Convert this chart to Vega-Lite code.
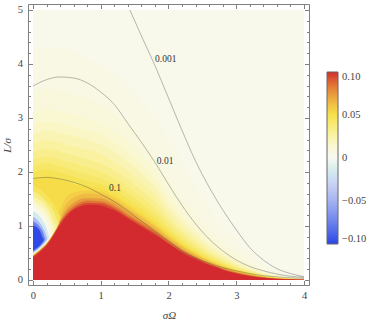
{
"$schema": "https://vega.github.io/schema/vega-lite/v6.json",
"width": 281, "height": 281,
"autosize": {"type": "none"},
"padding": {"left": 28, "top": 4, "right": 65, "bottom": 39},
"background": "white",
"config": {"view": {"stroke": null}, "font": "Liberation Serif"},
"datasets": {
"bands": [
{"x":0,"y":5,"v":0.003},{"x":4,"y":5,"v":0.003},
{"x":0,"y":4.3,"v":0.0065},{"x":0.4,"y":4.3,"v":0.0065},{"x":0.8,"y":4.1,"v":0.0065},{"x":1.2,"y":3.8,"v":0.0065},{"x":1.6,"y":3.3,"v":0.0065},{"x":2,"y":2.6,"v":0.0065},{"x":2.4,"y":1.7,"v":0.0065},{"x":2.8,"y":1.0,"v":0.0065},{"x":3.2,"y":0.5,"v":0.0065},{"x":3.6,"y":0.15,"v":0.0065},{"x":4,"y":0.04,"v":0.0065},
{"x":0,"y":3.5,"v":0.0095},{"x":0.1,"y":3.52,"v":0.0095},{"x":0.2,"y":3.54,"v":0.0095},{"x":0.3,"y":3.52,"v":0.0095},{"x":0.4,"y":3.5,"v":0.0095},{"x":0.5,"y":3.47,"v":0.0095},{"x":0.6,"y":3.44,"v":0.0095},{"x":0.7,"y":3.4,"v":0.0095},{"x":0.8,"y":3.36,"v":0.0095},{"x":1,"y":3.25,"v":0.0095},{"x":1.2,"y":3.08,"v":0.0095},{"x":1.4,"y":2.88,"v":0.0095},{"x":1.6,"y":2.6,"v":0.0095},{"x":1.8,"y":2.25,"v":0.0095},{"x":2,"y":1.86,"v":0.0095},{"x":2.2,"y":1.52,"v":0.0095},{"x":2.4,"y":1.22,"v":0.0095},{"x":2.6,"y":0.94,"v":0.0095},{"x":2.8,"y":0.71,"v":0.0095},{"x":3,"y":0.5,"v":0.0095},{"x":3.2,"y":0.35,"v":0.0095},{"x":3.4,"y":0.19,"v":0.0095},{"x":3.6,"y":0.099,"v":0.0095},{"x":3.8,"y":0.052,"v":0.0095},{"x":4,"y":0.028,"v":0.0095},
{"x":0,"y":3.1,"v":0.0135},{"x":0.1,"y":3.13,"v":0.0135},{"x":0.2,"y":3.16,"v":0.0135},{"x":0.3,"y":3.14,"v":0.0135},{"x":0.4,"y":3.12,"v":0.0135},{"x":0.5,"y":3.09,"v":0.0135},{"x":0.6,"y":3.06,"v":0.0135},{"x":0.7,"y":3.03,"v":0.0135},{"x":0.8,"y":3.0,"v":0.0135},{"x":1,"y":2.9,"v":0.0135},{"x":1.2,"y":2.75,"v":0.0135},{"x":1.4,"y":2.55,"v":0.0135},{"x":1.6,"y":2.31,"v":0.0135},{"x":1.8,"y":2.03,"v":0.0135},{"x":2,"y":1.62,"v":0.0135},{"x":2.2,"y":1.29,"v":0.0135},{"x":2.4,"y":1.02,"v":0.0135},{"x":2.6,"y":0.78,"v":0.0135},{"x":2.8,"y":0.58,"v":0.0135},{"x":3,"y":0.4,"v":0.0135},{"x":3.2,"y":0.275,"v":0.0135},{"x":3.4,"y":0.152,"v":0.0135},{"x":3.6,"y":0.078,"v":0.0135},{"x":3.8,"y":0.041,"v":0.0135},{"x":4,"y":0.023,"v":0.0135},
{"x":0,"y":2.87,"v":0.0175},{"x":0.1,"y":2.91,"v":0.0175},{"x":0.2,"y":2.94,"v":0.0175},{"x":0.3,"y":2.92,"v":0.0175},{"x":0.4,"y":2.9,"v":0.0175},{"x":0.5,"y":2.87,"v":0.0175},{"x":0.6,"y":2.84,"v":0.0175},{"x":0.7,"y":2.81,"v":0.0175},{"x":0.8,"y":2.78,"v":0.0175},{"x":1,"y":2.69,"v":0.0175},{"x":1.2,"y":2.54,"v":0.0175},{"x":1.4,"y":2.35,"v":0.0175},{"x":1.6,"y":2.12,"v":0.0175},{"x":1.8,"y":1.86,"v":0.0175},{"x":2,"y":1.47,"v":0.0175},{"x":2.2,"y":1.16,"v":0.0175},{"x":2.4,"y":0.91,"v":0.0175},{"x":2.6,"y":0.69,"v":0.0175},{"x":2.8,"y":0.51,"v":0.0175},{"x":3,"y":0.35,"v":0.0175},{"x":3.2,"y":0.235,"v":0.0175},{"x":3.4,"y":0.132,"v":0.0175},{"x":3.6,"y":0.068,"v":0.0175},{"x":3.8,"y":0.036,"v":0.0175},{"x":4,"y":0.02,"v":0.0175},
{"x":0,"y":2.7,"v":0.0222},{"x":0.1,"y":2.74,"v":0.0222},{"x":0.2,"y":2.77,"v":0.0222},{"x":0.3,"y":2.75,"v":0.0222},{"x":0.4,"y":2.72,"v":0.0222},{"x":0.5,"y":2.69,"v":0.0222},{"x":0.6,"y":2.66,"v":0.0222},{"x":0.7,"y":2.63,"v":0.0222},{"x":0.8,"y":2.6,"v":0.0222},{"x":1,"y":2.51,"v":0.0222},{"x":1.2,"y":2.37,"v":0.0222},{"x":1.4,"y":2.19,"v":0.0222},{"x":1.6,"y":1.97,"v":0.0222},{"x":1.8,"y":1.72,"v":0.0222},{"x":2,"y":1.35,"v":0.0222},{"x":2.2,"y":1.06,"v":0.0222},{"x":2.4,"y":0.83,"v":0.0222},{"x":2.6,"y":0.62,"v":0.0222},{"x":2.8,"y":0.46,"v":0.0222},{"x":3,"y":0.31,"v":0.0222},{"x":3.2,"y":0.205,"v":0.0222},{"x":3.4,"y":0.116,"v":0.0222},{"x":3.6,"y":0.06,"v":0.0222},{"x":3.8,"y":0.032,"v":0.0222},{"x":4,"y":0.018,"v":0.0222},
{"x":0,"y":2.53,"v":0.0272},{"x":0.1,"y":2.57,"v":0.0272},{"x":0.2,"y":2.59,"v":0.0272},{"x":0.3,"y":2.57,"v":0.0272},{"x":0.4,"y":2.54,"v":0.0272},{"x":0.5,"y":2.5,"v":0.0272},{"x":0.6,"y":2.47,"v":0.0272},{"x":0.7,"y":2.44,"v":0.0272},{"x":0.8,"y":2.41,"v":0.0272},{"x":1,"y":2.33,"v":0.0272},{"x":1.2,"y":2.19,"v":0.0272},{"x":1.4,"y":2.02,"v":0.0272},{"x":1.6,"y":1.81,"v":0.0272},{"x":1.8,"y":1.58,"v":0.0272},{"x":2,"y":1.24,"v":0.0272},{"x":2.2,"y":0.97,"v":0.0272},{"x":2.4,"y":0.75,"v":0.0272},{"x":2.6,"y":0.56,"v":0.0272},{"x":2.8,"y":0.41,"v":0.0272},{"x":3,"y":0.28,"v":0.0272},{"x":3.2,"y":0.185,"v":0.0272},{"x":3.4,"y":0.104,"v":0.0272},{"x":3.6,"y":0.054,"v":0.0272},{"x":3.8,"y":0.029,"v":0.0272},{"x":4,"y":0.016,"v":0.0272},
{"x":0,"y":2.38,"v":0.0322},{"x":0.1,"y":2.41,"v":0.0322},{"x":0.2,"y":2.43,"v":0.0322},{"x":0.3,"y":2.41,"v":0.0322},{"x":0.4,"y":2.38,"v":0.0322},{"x":0.5,"y":2.34,"v":0.0322},{"x":0.6,"y":2.31,"v":0.0322},{"x":0.7,"y":2.27,"v":0.0322},{"x":0.8,"y":2.24,"v":0.0322},{"x":1,"y":2.16,"v":0.0322},{"x":1.2,"y":2.03,"v":0.0322},{"x":1.4,"y":1.86,"v":0.0322},{"x":1.6,"y":1.66,"v":0.0322},{"x":1.8,"y":1.45,"v":0.0322},{"x":2,"y":1.14,"v":0.0322},{"x":2.2,"y":0.89,"v":0.0322},{"x":2.4,"y":0.69,"v":0.0322},{"x":2.6,"y":0.51,"v":0.0322},{"x":2.8,"y":0.37,"v":0.0322},{"x":3,"y":0.25,"v":0.0322},{"x":3.2,"y":0.165,"v":0.0322},{"x":3.4,"y":0.092,"v":0.0322},{"x":3.6,"y":0.048,"v":0.0322},{"x":3.8,"y":0.026,"v":0.0322},{"x":4,"y":0.015,"v":0.0322},
{"x":0,"y":2.24,"v":0.0372},{"x":0.1,"y":2.27,"v":0.0372},{"x":0.2,"y":2.29,"v":0.0372},{"x":0.3,"y":2.27,"v":0.0372},{"x":0.4,"y":2.23,"v":0.0372},{"x":0.5,"y":2.19,"v":0.0372},{"x":0.6,"y":2.16,"v":0.0372},{"x":0.7,"y":2.12,"v":0.0372},{"x":0.8,"y":2.09,"v":0.0372},{"x":1,"y":2.01,"v":0.0372},{"x":1.2,"y":1.89,"v":0.0372},{"x":1.4,"y":1.72,"v":0.0372},{"x":1.6,"y":1.53,"v":0.0372},{"x":1.8,"y":1.33,"v":0.0372},{"x":2,"y":1.05,"v":0.0372},{"x":2.2,"y":0.82,"v":0.0372},{"x":2.4,"y":0.63,"v":0.0372},{"x":2.6,"y":0.47,"v":0.0372},{"x":2.8,"y":0.34,"v":0.0372},{"x":3,"y":0.23,"v":0.0372},{"x":3.2,"y":0.15,"v":0.0372},{"x":3.4,"y":0.084,"v":0.0372},{"x":3.6,"y":0.044,"v":0.0372},{"x":3.8,"y":0.024,"v":0.0372},{"x":4,"y":0.014,"v":0.0372},
{"x":0,"y":2.12,"v":0.0422},{"x":0.1,"y":2.15,"v":0.0422},{"x":0.2,"y":2.17,"v":0.0422},{"x":0.3,"y":2.15,"v":0.0422},{"x":0.4,"y":2.11,"v":0.0422},{"x":0.5,"y":2.07,"v":0.0422},{"x":0.6,"y":2.03,"v":0.0422},{"x":0.7,"y":1.99,"v":0.0422},{"x":0.8,"y":1.96,"v":0.0422},{"x":1,"y":1.89,"v":0.0422},{"x":1.2,"y":1.77,"v":0.0422},{"x":1.4,"y":1.6,"v":0.0422},{"x":1.6,"y":1.42,"v":0.0422},{"x":1.8,"y":1.23,"v":0.0422},{"x":2,"y":0.97,"v":0.0422},{"x":2.2,"y":0.76,"v":0.0422},{"x":2.4,"y":0.58,"v":0.0422},{"x":2.6,"y":0.43,"v":0.0422},{"x":2.8,"y":0.31,"v":0.0422},{"x":3,"y":0.21,"v":0.0422},{"x":3.2,"y":0.135,"v":0.0422},{"x":3.4,"y":0.076,"v":0.0422},{"x":3.6,"y":0.041,"v":0.0422},{"x":3.8,"y":0.023,"v":0.0422},{"x":4,"y":0.013,"v":0.0422},
{"x":0,"y":2.0,"v":0.0472},{"x":0.1,"y":2.03,"v":0.0472},{"x":0.2,"y":2.05,"v":0.0472},{"x":0.3,"y":2.03,"v":0.0472},{"x":0.4,"y":1.99,"v":0.0472},{"x":0.5,"y":1.95,"v":0.0472},{"x":0.6,"y":1.91,"v":0.0472},{"x":0.7,"y":1.87,"v":0.0472},{"x":0.8,"y":1.84,"v":0.0472},{"x":1,"y":1.78,"v":0.0472},{"x":1.2,"y":1.67,"v":0.0472},{"x":1.4,"y":1.5,"v":0.0472},{"x":1.6,"y":1.33,"v":0.0472},{"x":1.8,"y":1.14,"v":0.0472},{"x":2,"y":0.91,"v":0.0472},{"x":2.2,"y":0.71,"v":0.0472},{"x":2.4,"y":0.54,"v":0.0472},{"x":2.6,"y":0.4,"v":0.0472},{"x":2.8,"y":0.29,"v":0.0472},{"x":3,"y":0.195,"v":0.0472},{"x":3.2,"y":0.125,"v":0.0472},{"x":3.4,"y":0.07,"v":0.0472},{"x":3.6,"y":0.038,"v":0.0472},{"x":3.8,"y":0.021,"v":0.0472},{"x":4,"y":0.012,"v":0.0472},
{"x":0,"y":1.85,"v":0.0515},{"x":0.1,"y":1.89,"v":0.0515},{"x":0.2,"y":1.92,"v":0.0515},{"x":0.3,"y":1.9,"v":0.0515},{"x":0.4,"y":1.86,"v":0.0515},{"x":0.5,"y":1.82,"v":0.0515},{"x":0.6,"y":1.78,"v":0.0515},{"x":0.7,"y":1.75,"v":0.0515},{"x":0.8,"y":1.73,"v":0.0515},{"x":1,"y":1.69,"v":0.0515},{"x":1.2,"y":1.58,"v":0.0515},{"x":1.4,"y":1.42,"v":0.0515},{"x":1.6,"y":1.25,"v":0.0515},{"x":1.8,"y":1.07,"v":0.0515},{"x":2,"y":0.86,"v":0.0515},{"x":2.2,"y":0.67,"v":0.0515},{"x":2.4,"y":0.51,"v":0.0515},{"x":2.6,"y":0.375,"v":0.0515},{"x":2.8,"y":0.27,"v":0.0515},{"x":3,"y":0.18,"v":0.0515},{"x":3.2,"y":0.115,"v":0.0515},{"x":3.4,"y":0.066,"v":0.0515},{"x":3.6,"y":0.036,"v":0.0515},{"x":3.8,"y":0.02,"v":0.0515},{"x":4,"y":0.011,"v":0.0515},
{"x":0,"y":0.465,"v":0.057},{"x":0.1,"y":0.565,"v":0.057},{"x":0.2,"y":0.69,"v":0.057},{"x":0.3,"y":0.87,"v":0.057},{"x":0.4,"y":1.3,"v":0.057},{"x":0.5,"y":1.55,"v":0.057},{"x":0.6,"y":1.62,"v":0.057},{"x":0.7,"y":1.65,"v":0.057},{"x":0.8,"y":1.66,"v":0.057},{"x":1,"y":1.635,"v":0.057},{"x":1.2,"y":1.53,"v":0.057},{"x":1.4,"y":1.37,"v":0.057},{"x":1.6,"y":1.2,"v":0.057},{"x":1.8,"y":1.03,"v":0.057},{"x":2,"y":0.825,"v":0.057},{"x":2.2,"y":0.645,"v":0.057},{"x":2.4,"y":0.49,"v":0.057},{"x":2.6,"y":0.36,"v":0.057},{"x":2.8,"y":0.258,"v":0.057},{"x":3,"y":0.172,"v":0.057},{"x":3.2,"y":0.11,"v":0.057},{"x":3.4,"y":0.062,"v":0.057},{"x":3.6,"y":0.034,"v":0.057},{"x":3.8,"y":0.018,"v":0.057},{"x":4,"y":0.01,"v":0.057},
{"x":0,"y":0.46,"v":0.064},{"x":0.1,"y":0.56,"v":0.064},{"x":0.2,"y":0.68,"v":0.064},{"x":0.3,"y":0.86,"v":0.064},{"x":0.4,"y":1.16,"v":0.064},{"x":0.5,"y":1.42,"v":0.064},{"x":0.6,"y":1.52,"v":0.064},{"x":0.7,"y":1.58,"v":0.064},{"x":0.8,"y":1.6,"v":0.064},{"x":1,"y":1.58,"v":0.064},{"x":1.2,"y":1.48,"v":0.064},{"x":1.4,"y":1.32,"v":0.064},{"x":1.6,"y":1.16,"v":0.064},{"x":1.8,"y":0.99,"v":0.064},{"x":2,"y":0.79,"v":0.064},{"x":2.2,"y":0.62,"v":0.064},{"x":2.4,"y":0.47,"v":0.064},{"x":2.6,"y":0.345,"v":0.064},{"x":2.8,"y":0.245,"v":0.064},{"x":3,"y":0.165,"v":0.064},{"x":3.2,"y":0.105,"v":0.064},{"x":3.4,"y":0.058,"v":0.064},{"x":3.6,"y":0.032,"v":0.064},{"x":3.8,"y":0.017,"v":0.064},{"x":4,"y":0.009,"v":0.064},
{"x":0,"y":0.45,"v":0.074},{"x":0.1,"y":0.55,"v":0.074},{"x":0.2,"y":0.67,"v":0.074},{"x":0.3,"y":0.85,"v":0.074},{"x":0.4,"y":1.1,"v":0.074},{"x":0.5,"y":1.32,"v":0.074},{"x":0.6,"y":1.43,"v":0.074},{"x":0.7,"y":1.5,"v":0.074},{"x":0.8,"y":1.52,"v":0.074},{"x":1,"y":1.51,"v":0.074},{"x":1.2,"y":1.42,"v":0.074},{"x":1.4,"y":1.26,"v":0.074},{"x":1.6,"y":1.1,"v":0.074},{"x":1.8,"y":0.94,"v":0.074},{"x":2,"y":0.75,"v":0.074},{"x":2.2,"y":0.58,"v":0.074},{"x":2.4,"y":0.44,"v":0.074},{"x":2.6,"y":0.32,"v":0.074},{"x":2.8,"y":0.225,"v":0.074},{"x":3,"y":0.15,"v":0.074},{"x":3.2,"y":0.095,"v":0.074},{"x":3.4,"y":0.053,"v":0.074},{"x":3.6,"y":0.029,"v":0.074},{"x":3.8,"y":0.015,"v":0.074},{"x":4,"y":0.008,"v":0.074},
{"x":0,"y":0.44,"v":0.084},{"x":0.1,"y":0.54,"v":0.084},{"x":0.2,"y":0.66,"v":0.084},{"x":0.3,"y":0.84,"v":0.084},{"x":0.4,"y":1.075,"v":0.084},{"x":0.5,"y":1.26,"v":0.084},{"x":0.6,"y":1.37,"v":0.084},{"x":0.7,"y":1.44,"v":0.084},{"x":0.8,"y":1.47,"v":0.084},{"x":1,"y":1.46,"v":0.084},{"x":1.2,"y":1.37,"v":0.084},{"x":1.4,"y":1.21,"v":0.084},{"x":1.6,"y":1.06,"v":0.084},{"x":1.8,"y":0.9,"v":0.084},{"x":2,"y":0.72,"v":0.084},{"x":2.2,"y":0.55,"v":0.084},{"x":2.4,"y":0.42,"v":0.084},{"x":2.6,"y":0.305,"v":0.084},{"x":2.8,"y":0.21,"v":0.084},{"x":3,"y":0.14,"v":0.084},{"x":3.2,"y":0.087,"v":0.084},{"x":3.4,"y":0.048,"v":0.084},{"x":3.6,"y":0.026,"v":0.084},{"x":3.8,"y":0.013,"v":0.084},{"x":4,"y":0.007,"v":0.084},
{"x":0,"y":0.43,"v":0.094},{"x":0.1,"y":0.53,"v":0.094},{"x":0.2,"y":0.65,"v":0.094},{"x":0.3,"y":0.83,"v":0.094},{"x":0.4,"y":1.05,"v":0.094},{"x":0.5,"y":1.22,"v":0.094},{"x":0.6,"y":1.33,"v":0.094},{"x":0.7,"y":1.4,"v":0.094},{"x":0.8,"y":1.43,"v":0.094},{"x":1,"y":1.42,"v":0.094},{"x":1.2,"y":1.33,"v":0.094},{"x":1.4,"y":1.17,"v":0.094},{"x":1.6,"y":1.02,"v":0.094},{"x":1.8,"y":0.87,"v":0.094},{"x":2,"y":0.69,"v":0.094},{"x":2.2,"y":0.53,"v":0.094},{"x":2.4,"y":0.405,"v":0.094},{"x":2.6,"y":0.29,"v":0.094},{"x":2.8,"y":0.2,"v":0.094},{"x":3,"y":0.13,"v":0.094},{"x":3.2,"y":0.08,"v":0.094},{"x":3.4,"y":0.044,"v":0.094},{"x":3.6,"y":0.023,"v":0.094},{"x":3.8,"y":0.012,"v":0.094},{"x":4,"y":0.006,"v":0.094},
{"x":0,"y":0.42,"v":0.1},{"x":0.1,"y":0.52,"v":0.1},{"x":0.2,"y":0.64,"v":0.1},{"x":0.3,"y":0.82,"v":0.1},{"x":0.4,"y":1.02,"v":0.1},{"x":0.5,"y":1.19,"v":0.1},{"x":0.6,"y":1.3,"v":0.1},{"x":0.7,"y":1.36,"v":0.1},{"x":0.8,"y":1.39,"v":0.1},{"x":0.9,"y":1.395,"v":0.1},{"x":1,"y":1.38,"v":0.1},{"x":1.1,"y":1.34,"v":0.1},{"x":1.2,"y":1.29,"v":0.1},{"x":1.3,"y":1.22,"v":0.1},{"x":1.4,"y":1.14,"v":0.1},{"x":1.5,"y":1.06,"v":0.1},{"x":1.6,"y":0.99,"v":0.1},{"x":1.7,"y":0.91,"v":0.1},{"x":1.8,"y":0.84,"v":0.1},{"x":1.9,"y":0.76,"v":0.1},{"x":2,"y":0.67,"v":0.1},{"x":2.1,"y":0.59,"v":0.1},{"x":2.2,"y":0.51,"v":0.1},{"x":2.3,"y":0.44,"v":0.1},{"x":2.4,"y":0.39,"v":0.1},{"x":2.5,"y":0.33,"v":0.1},{"x":2.6,"y":0.28,"v":0.1},{"x":2.7,"y":0.24,"v":0.1},{"x":2.8,"y":0.19,"v":0.1},{"x":2.9,"y":0.15,"v":0.1},{"x":3,"y":0.12,"v":0.1},{"x":3.2,"y":0.07,"v":0.1},{"x":3.4,"y":0.04,"v":0.1},{"x":3.6,"y":0.02,"v":0.1},{"x":3.8,"y":0.01,"v":0.1},{"x":4,"y":0.005,"v":0.1}
],
"lobe": [
{"x":0,"lo":0.47,"hi":1.75,"v":0.045},{"x":0.1,"lo":0.57,"hi":1.68,"v":0.045},{"x":0.2,"lo":0.69,"hi":1.57,"v":0.045},{"x":0.3,"lo":0.87,"hi":1.42,"v":0.045},{"x":0.36,"lo":0.99,"hi":1.28,"v":0.045},{"x":0.41,"lo":1.16,"hi":1.16,"v":0.045},
{"x":0,"lo":0.47,"hi":1.64,"v":0.035},{"x":0.1,"lo":0.57,"hi":1.57,"v":0.035},{"x":0.2,"lo":0.69,"hi":1.45,"v":0.035},{"x":0.3,"lo":0.87,"hi":1.28,"v":0.035},{"x":0.34,"lo":0.95,"hi":1.16,"v":0.035},{"x":0.38,"lo":1.04,"hi":1.04,"v":0.035},
{"x":0,"lo":0.47,"hi":1.55,"v":0.025},{"x":0.1,"lo":0.57,"hi":1.48,"v":0.025},{"x":0.2,"lo":0.69,"hi":1.36,"v":0.025},{"x":0.28,"lo":0.83,"hi":1.17,"v":0.025},{"x":0.35,"lo":0.975,"hi":0.975,"v":0.025},
{"x":0,"lo":0.47,"hi":1.47,"v":0.016},{"x":0.1,"lo":0.57,"hi":1.39,"v":0.016},{"x":0.2,"lo":0.69,"hi":1.27,"v":0.016},{"x":0.27,"lo":0.81,"hi":1.08,"v":0.016},{"x":0.32,"lo":0.91,"hi":0.91,"v":0.016},
{"x":0,"lo":0.47,"hi":1.4,"v":0.008},{"x":0.1,"lo":0.57,"hi":1.31,"v":0.008},{"x":0.2,"lo":0.69,"hi":1.16,"v":0.008},{"x":0.25,"lo":0.78,"hi":1.01,"v":0.008},{"x":0.29,"lo":0.85,"hi":0.85,"v":0.008},
{"x":0,"lo":0.475,"hi":1.33,"v":0.002},{"x":0.1,"lo":0.575,"hi":1.24,"v":0.002},{"x":0.2,"lo":0.7,"hi":1.04,"v":0.002},{"x":0.26,"lo":0.81,"hi":0.81,"v":0.002},
{"x":0,"lo":0.48,"hi":1.28,"v":-0.015},{"x":0.05,"lo":0.53,"hi":1.24,"v":-0.015},{"x":0.1,"lo":0.58,"hi":1.18,"v":-0.015},{"x":0.15,"lo":0.64,"hi":1.09,"v":-0.015},{"x":0.2,"lo":0.71,"hi":0.96,"v":-0.015},{"x":0.24,"lo":0.79,"hi":0.79,"v":-0.015},
{"x":0,"lo":0.5,"hi":1.17,"v":-0.045},{"x":0.05,"lo":0.55,"hi":1.13,"v":-0.045},{"x":0.1,"lo":0.6,"hi":1.06,"v":-0.045},{"x":0.15,"lo":0.66,"hi":0.96,"v":-0.045},{"x":0.2,"lo":0.74,"hi":0.81,"v":-0.045},{"x":0.21,"lo":0.77,"hi":0.77,"v":-0.045},
{"x":0,"lo":0.52,"hi":1.09,"v":-0.075},{"x":0.05,"lo":0.57,"hi":1.05,"v":-0.075},{"x":0.1,"lo":0.62,"hi":0.98,"v":-0.075},{"x":0.15,"lo":0.69,"hi":0.87,"v":-0.075},{"x":0.18,"lo":0.75,"hi":0.75,"v":-0.075},
{"x":0,"lo":0.55,"hi":1.01,"v":-0.098},{"x":0.05,"lo":0.59,"hi":0.98,"v":-0.098},{"x":0.1,"lo":0.64,"hi":0.91,"v":-0.098},{"x":0.14,"lo":0.7,"hi":0.79,"v":-0.098},{"x":0.16,"lo":0.74,"hi":0.74,"v":-0.098}
],
"lines": [
{"x":0,"y":1.88,"c":"0.1"},{"x":0.2,"y":1.9,"c":"0.1"},{"x":0.4,"y":1.87,"c":"0.1"},{"x":0.6,"y":1.81,"c":"0.1"},{"x":0.8,"y":1.72,"c":"0.1"},{"x":1,"y":1.59,"c":"0.1"},{"x":1.2,"y":1.45,"c":"0.1"},{"x":1.4,"y":1.28,"c":"0.1"},{"x":1.6,"y":1.09,"c":"0.1"},{"x":1.8,"y":0.9,"c":"0.1"},{"x":2,"y":0.72,"c":"0.1"},{"x":2.2,"y":0.54,"c":"0.1"},{"x":2.4,"y":0.41,"c":"0.1"},{"x":2.6,"y":0.31,"c":"0.1"},{"x":2.8,"y":0.23,"c":"0.1"},{"x":3,"y":0.17,"c":"0.1"},{"x":3.2,"y":0.12,"c":"0.1"},{"x":3.4,"y":0.08,"c":"0.1"},{"x":3.6,"y":0.06,"c":"0.1"},{"x":3.8,"y":0.04,"c":"0.1"},{"x":4,"y":0.03,"c":"0.1"},
{"x":0,"y":3.59,"c":"0.01"},{"x":0.2,"y":3.71,"c":"0.01"},{"x":0.4,"y":3.76,"c":"0.01"},{"x":0.6,"y":3.74,"c":"0.01"},{"x":0.8,"y":3.65,"c":"0.01"},{"x":1,"y":3.48,"c":"0.01"},{"x":1.2,"y":3.25,"c":"0.01"},{"x":1.4,"y":2.9,"c":"0.01"},{"x":1.6,"y":2.55,"c":"0.01"},{"x":1.8,"y":2.18,"c":"0.01"},{"x":2,"y":1.77,"c":"0.01"},{"x":2.2,"y":1.38,"c":"0.01"},{"x":2.4,"y":1.04,"c":"0.01"},{"x":2.6,"y":0.76,"c":"0.01"},{"x":2.8,"y":0.54,"c":"0.01"},{"x":3,"y":0.37,"c":"0.01"},{"x":3.2,"y":0.25,"c":"0.01"},{"x":3.4,"y":0.17,"c":"0.01"},{"x":3.6,"y":0.11,"c":"0.01"},{"x":3.8,"y":0.07,"c":"0.01"},{"x":4,"y":0.05,"c":"0.01"},
{"x":1.43,"y":5.0,"c":"0.001"},{"x":1.6,"y":4.52,"c":"0.001"},{"x":1.8,"y":3.97,"c":"0.001"},{"x":2,"y":3.37,"c":"0.001"},{"x":2.2,"y":2.77,"c":"0.001"},{"x":2.4,"y":2.2,"c":"0.001"},{"x":2.6,"y":1.72,"c":"0.001"},{"x":2.8,"y":1.3,"c":"0.001"},{"x":3,"y":0.93,"c":"0.001"},{"x":3.2,"y":0.6,"c":"0.001"},{"x":3.4,"y":0.37,"c":"0.001"},{"x":3.6,"y":0.21,"c":"0.001"},{"x":3.8,"y":0.12,"c":"0.001"},{"x":4,"y":0.06,"c":"0.001"}
],
"labels": [
{"x":1.96,"y":4.09,"t":"0.001"},{"x":1.95,"y":2.21,"t":"0.01"},{"x":1.21,"y":1.70,"t":"0.1"}
]
},
"layer": [
{
"data": {"name": "bands"},
"mark": {"type": "area", "interpolate": "monotone"},
"encoding": {
"x": {"field": "x", "type": "quantitative", "scale": {"domain": [-0.0738, 4.0738], "nice": false, "zero": false},
 "axis": {"orient": "bottom", "values": [0,0.2,0.4,0.6,0.8,1,1.2,1.4,1.6,1.8,2,2.2,2.4,2.6,2.8,3,3.2,3.4,3.6,3.8,4], "labelExpr": "datum.value % 1 === 0 ? format(datum.value, 'd') : ''", "tickSize": {"condition": {"test": "datum.value % 1 === 0", "value": -4.5}, "value": -2.5}, "labelPadding": 10, "labelBaseline": "top", "labelOverlap": false, "labelFlush": false, "domainColor": "#808080", "tickColor": "#808080", "labelColor": "#444444", "labelFont": "Liberation Serif", "labelFontSize": 10.5, "title": "σΩ", "titleFont": "Liberation Serif", "titleFontSize": 11, "titleFontWeight": "normal", "titleFontStyle": "italic", "titleColor": "#444444", "titleX": 141, "titleY": 30.5, "titleBaseline": "middle", "titleAlign": "center", "grid": false, "zindex": 1}},
"y": {"field": "y", "type": "quantitative", "stack": null, "scale": {"domain": [-0.0926, 5.1111], "nice": false, "zero": false},
 "axis": {"orient": "left", "values": [0,0.2,0.4,0.6,0.8,1,1.2,1.4,1.6,1.8,2,2.2,2.4,2.6,2.8,3,3.2,3.4,3.6,3.8,4,4.2,4.4,4.6,4.8,5], "labelExpr": "datum.value % 1 === 0 ? format(datum.value, 'd') : ''", "tickSize": {"condition": {"test": "datum.value % 1 === 0", "value": -4.5}, "value": -2.5}, "labelPadding": 10, "labelOverlap": false, "labelFlush": false, "domainColor": "#808080", "tickColor": "#808080", "labelColor": "#444444", "labelFont": "Liberation Serif", "labelFontSize": 10.5, "title": "L/σ", "titleFont": "Liberation Serif", "titleFontSize": 11, "titleFontWeight": "normal", "titleFontStyle": "italic", "titleColor": "#444444", "titleX": -20.5, "titleY": 141, "titleAngle": -90, "titleBaseline": "middle", "titleAlign": "center", "grid": false, "zindex": 1}},
"y2": {"datum": 0},
"detail": {"field": "v", "type": "quantitative"},
"color": {"field": "v", "type": "quantitative",
 "scale": {"type": "linear", "domain": [-0.1,-0.075,-0.05,-0.025,0,0.0125,0.025,0.0375,0.05,0.0625,0.075,0.0875,0.1], "range": ["#2a46e4","#6a82ec","#a4b2f0","#d4daf4","#f8f8f2","#faf8d6","#faf3aa","#f8eb78","#f6e04a","#f0c044","#e69a3e","#de6a36","#d22a2e"], "clamp": true},
 "legend": {"type": "gradient", "orient": "none", "legendX": 299, "legendY": 68, "direction": "vertical", "gradientLength": 172, "gradientThickness": 11, "gradientStrokeColor": "#666666", "gradientStrokeWidth": 1, "title": null, "values": [-0.1,-0.05,0,0.05,0.1], "labelExpr": "datum.value == 0 ? '0' : replace(format(datum.value, '.2f'), '-', '\u2212')", "labelFont": "Liberation Serif", "labelFontSize": 10.5, "labelColor": "#444444", "labelOffset": 4, "labelOverlap": false, "padding": 0}}
}
},
{
"data": {"name": "lobe"},
"mark": {"type": "area", "interpolate": "monotone"},
"encoding": {
"x": {"field": "x", "type": "quantitative", "scale": {"domain": [-0.0738, 4.0738], "nice": false, "zero": false}, "axis": null},
"y": {"field": "lo", "type": "quantitative", "stack": null, "scale": {"domain": [-0.0926, 5.1111], "nice": false, "zero": false}, "axis": null},
"y2": {"field": "hi"},
"detail": {"field": "v", "type": "quantitative"},
"color": {"field": "v", "type": "quantitative"}
}
},
{
"data": {"name": "lines"},
"mark": {"type": "line", "interpolate": "monotone", "stroke": "#404040", "strokeOpacity": 0.36, "strokeWidth": 1},
"encoding": {
"x": {"field": "x", "type": "quantitative", "scale": {"domain": [-0.0738, 4.0738], "nice": false, "zero": false},
 "axis": {"orient": "top", "values": [0,0.2,0.4,0.6,0.8,1,1.2,1.4,1.6,1.8,2,2.2,2.4,2.6,2.8,3,3.2,3.4,3.6,3.8,4], "labels": false, "title": null, "tickSize": {"condition": {"test": "datum.value % 1 === 0", "value": -4.5}, "value": -2.5}, "domainColor": "#808080", "tickColor": "#808080", "grid": false, "zindex": 1}},
"y": {"field": "y", "type": "quantitative", "scale": {"domain": [-0.0926, 5.1111], "nice": false, "zero": false},
 "axis": {"orient": "right", "values": [0,0.2,0.4,0.6,0.8,1,1.2,1.4,1.6,1.8,2,2.2,2.4,2.6,2.8,3,3.2,3.4,3.6,3.8,4,4.2,4.4,4.6,4.8,5], "labels": false, "title": null, "tickSize": {"condition": {"test": "datum.value % 1 === 0", "value": -4.5}, "value": -2.5}, "domainColor": "#808080", "tickColor": "#808080", "grid": false, "zindex": 1}},
"detail": {"field": "c", "type": "nominal"}
}
},
{
"data": {"name": "labels"},
"mark": {"type": "text", "font": "Liberation Serif", "fontSize": 9.5, "color": "#333333", "align": "center", "baseline": "middle"},
"encoding": {
"x": {"field": "x", "type": "quantitative", "scale": {"domain": [-0.0738, 4.0738], "nice": false, "zero": false}, "axis": null},
"y": {"field": "y", "type": "quantitative", "scale": {"domain": [-0.0926, 5.1111], "nice": false, "zero": false}, "axis": null},
"text": {"field": "t", "type": "nominal"}
}
}
],
"resolve": {"axis": {"x": "independent", "y": "independent"}}
}
